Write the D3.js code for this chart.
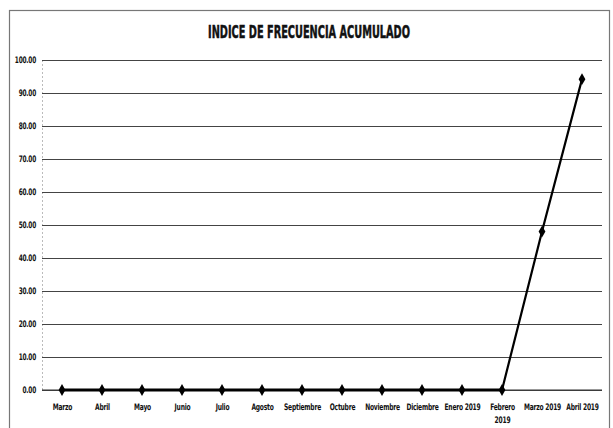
<!DOCTYPE html>
<html>
<head>
<meta charset="utf-8">
<script src="https://cdn.jsdelivr.net/npm/d3@7/dist/d3.min.js"></script>
<style>
  html, body { margin: 0; padding: 0; background: #fff; }
  svg { display: block; }
  text { font-family: "Liberation Sans Narrow", "Arial Narrow", "DejaVu Sans Condensed", sans-serif; font-weight: bold; fill: #111; }
</style>
</head>
<body>
<svg id="chart" width="613" height="428"></svg>
<script>
// Monthly cumulative frequency index
const months = ["Marzo", "Abril", "Mayo", "Junio", "Julio", "Agosto", "Septiembre",
  "Octubre", "Noviembre", "Diciembre", "Enero 2019", "Febrero 2019", "Marzo 2019", "Abril 2019"];
const indice = [0, 0, 0, 0, 0, 0, 0, 0, 0, 0, 0, 0, 48.0, 94.2];
const yTicks = [0, 10, 20, 30, 40, 50, 60, 70, 80, 90, 100];
const title = "INDICE DE FRECUENCIA ACUMULADO";

const svg = d3.select("#chart");
const W = 613, H = 428;
const m = { left: 42, right: 11, top: 60, bottom: 38 };

// chart frame
svg.append("rect")
  .attr("x", 9.5).attr("y", 10.5)
  .attr("width", 600).attr("height", 430)
  .attr("fill", "none").attr("stroke", "#777").attr("stroke-width", 1.2);

const x = d3.scalePoint().domain(months)
  .range([m.left, W - m.right]).padding(0.5);
const y = d3.scaleLinear().domain([0, 100])
  .range([H - m.bottom, m.top]);

// title
svg.append("text")
  .attr("x", 309).attr("y", 38)
  .attr("text-anchor", "middle")
  .attr("font-size", 18)
  .attr("textLength", 202).attr("lengthAdjust", "spacingAndGlyphs")
  .style("stroke", "#111").style("stroke-width", 0.5)
  .text(title);

// horizontal gridlines + y labels
const yAxis = d3.axisLeft(y).tickValues(yTicks)
  .tickFormat(d3.format(".2f"))
  .tickSize(-(W - m.left - m.right)).tickPadding(0);
const gy = svg.append("g").attr("transform", `translate(${m.left},0)`).call(yAxis);
gy.select(".domain").attr("stroke", "#bbb").attr("stroke-dasharray", "2,2");
gy.selectAll(".tick line").attr("stroke", "#444").attr("stroke-width", 1);
gy.selectAll(".tick text").attr("font-size", 9).attr("font-family", null)
  .attr("x", 0).attr("transform", "translate(-6,0) scale(0.72,1)")
  .style("letter-spacing", "-0.3px");

// x category labels
const gx = svg.append("g").attr("transform", `translate(0,${y(0)})`)
  .call(d3.axisBottom(x).tickSize(0).tickPadding(14));
gx.select(".domain").remove();
gx.selectAll(".tick text").attr("font-size", 9).attr("font-family", null)
  .attr("transform", "scale(0.74,1)")
  .style("letter-spacing", "-0.3px")
  .each(function (d) {
    if (d === "Febrero 2019") {
      const t = d3.select(this).text(null);
      t.append("tspan").attr("x", 0).attr("dy", "0.71em").text("Febrero");
      t.append("tspan").attr("x", 0).attr("dy", "1.45em").text("2019");
      t.attr("dy", null);
    }
  });

// zero baseline
svg.append("line")
  .attr("x1", m.left).attr("x2", W - m.right)
  .attr("y1", y(0)).attr("y2", y(0))
  .attr("stroke", "#333").attr("stroke-width", 1.2);

const pts = months.map((mo, i) => ({ mo, v: indice[i] }));

// series line: heavier along the zero stretch, then the rising part
const line = d3.line().x(d => x(d.mo)).y(d => y(d.v));
svg.append("path")
  .datum(pts.slice(0, 12))
  .attr("fill", "none").attr("stroke", "#000").attr("stroke-width", 3)
  .attr("d", line);
svg.append("path")
  .datum(pts.slice(11))
  .attr("fill", "none").attr("stroke", "#000").attr("stroke-width", 2.2)
  .attr("d", line);

// diamond markers
svg.selectAll(".mk").data(pts).join("path")
  .attr("class", "mk")
  .attr("transform", d => `translate(${x(d.mo)},${y(d.v)})`)
  .attr("d", d3.symbol(d3.symbolDiamond, 40))
  .attr("fill", "#000");
</script>
</body>
</html>
